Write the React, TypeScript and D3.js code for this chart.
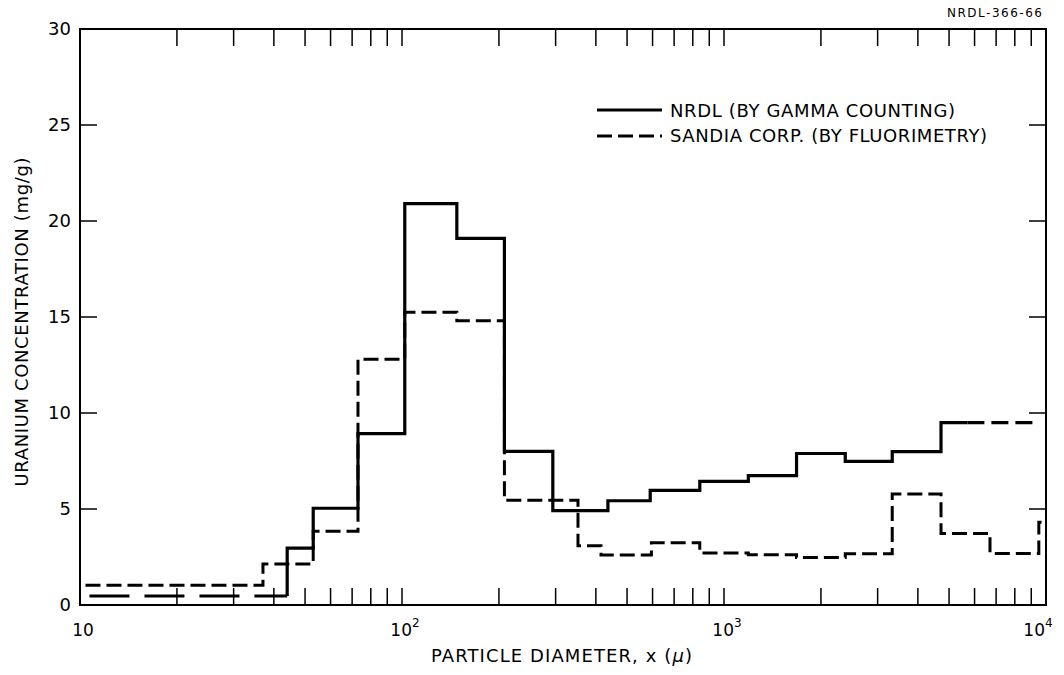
import React from "react";
import * as d3 from "d3";

const W = 1064;
const H = 675;

// axis domains and ticks
const xDomain: [number, number] = [10, 10000];
const yDomain: [number, number] = [0, 30];
const yTickValues = [0, 5, 10, 15, 20, 25, 30];
const xMajorTicks = [10, 100, 1000, 10000];
const xMajorExponents = ["", "2", "3", "4"];

// NRDL (by gamma counting) – bin edges (µ) and concentrations (mg/g)
const nrdlEdges = [10.7, 44, 53, 73, 102, 148, 208, 294, 436, 590, 841, 1190, 1680, 2380, 3330, 4720, 5700, 9510];
const nrdlValues = [0.47, 2.96, 5.04, 8.93, 20.9, 19.1, 8.0, 4.92, 5.43, 5.97, 6.44, 6.74, 7.89, 7.48, 7.99, 9.5, 9.5];
const nrdlEstimated = [true, false, false, false, false, false, false, false, false, false, false, false, false, false, false, false, true];

// Sandia Corp. (by fluorimetry)
const sandiaEdges = [10.4, 37, 53, 73, 102, 148, 208, 352, 415, 595, 841, 1190, 1680, 2380, 3330, 4720, 6700, 9500, 10000];
const sandiaValues = [1.03, 2.13, 3.84, 12.8, 15.25, 14.8, 5.45, 3.09, 2.61, 3.24, 2.71, 2.62, 2.47, 2.67, 5.78, 3.73, 2.68, 4.31];

const legendLabels = ["NRDL (BY GAMMA COUNTING)", "SANDIA CORP. (BY FLUORIMETRY)"];
const yTitle = "URANIUM CONCENTRATION (mg/g)";
const xTitle = "PARTICLE DIAMETER, x (";
const figureId = "NRDL-366-66";

const FONT = "DejaVu Sans";

type Run = { flag: boolean; start: number; pts: [number, number][] };

function stepRuns(edges: number[], values: number[], flags?: boolean[]): Run[] {
  const runs: Run[] = [];
  let cur: Run | null = null;
  for (let i = 0; i < values.length; i++) {
    const f = flags ? flags[i] : false;
    if (!cur || cur.flag !== f) {
      cur = { flag: f, start: i, pts: [] };
      if (i > 0) cur.pts.push([edges[i], values[i - 1]]);
      runs.push(cur);
    }
    cur.pts.push([edges[i], values[i]], [edges[i + 1], values[i]]);
  }
  return runs;
}

export default function App() {
  const left = 80, right = 1046, top = 29, bottom = 605;
  const x = d3.scaleLog().domain(xDomain).range([left, right]);
  const y = d3.scaleLinear().domain(yDomain).range([bottom, top]);
  const line = d3.line<[number, number]>().x(d => x(d[0])).y(d => y(d[1]));
  const tickLen = 17;

  const xTicks = x.ticks().filter(t => t > xDomain[0] && t < xDomain[1]);
  const yInner = yTickValues.filter(v => v > yDomain[0] && v < yDomain[1]);

  const nrdlRuns = stepRuns(nrdlEdges, nrdlValues, nrdlEstimated);
  const sandiaRuns = stepRuns(sandiaEdges, sandiaValues);

  return (
    <svg width={W} height={H} style={{ position: "absolute", left: 0, top: 0, background: "#fff" }} fontFamily={FONT}>
      <rect x={0} y={0} width={W} height={H} fill="#fff" />
      {/* frame */}
      <rect x={left} y={top} width={right - left} height={bottom - top} fill="none" stroke="#000" strokeWidth={2} />
      {/* x ticks top and bottom */}
      {xTicks.map((t, i) => (
        <g key={"xt" + i} stroke="#000" strokeWidth={1.5}>
          <line x1={x(t)} x2={x(t)} y1={top} y2={top + tickLen} />
          <line x1={x(t)} x2={x(t)} y1={bottom} y2={bottom - tickLen} />
        </g>
      ))}
      {/* y ticks left and right */}
      {yInner.map((v, i) => (
        <g key={"yt" + i} stroke="#000" strokeWidth={1.5}>
          <line x1={left} x2={left + tickLen} y1={y(v)} y2={y(v)} />
          <line x1={right} x2={right - tickLen} y1={y(v)} y2={y(v)} />
        </g>
      ))}
      {/* y tick labels */}
      {yTickValues.map((v, i) => (
        <text key={"yl" + i} x={71} y={y(v)} dy="0.36em" textAnchor="end" fontSize={18} fill="#000">
          {v}
        </text>
      ))}
      {/* x tick labels */}
      {xMajorTicks.map((t, i) => {
        const last = i === xMajorTicks.length - 1;
        const cx = last ? x(t) - 8 : x(t) + 3;
        return (
          <text key={"xl" + i} x={cx} y={636} textAnchor="middle" fontSize={17} fill="#000">
            10
            {xMajorExponents[i] ? (
              <tspan fontSize={12} dy={-9}>{xMajorExponents[i]}</tspan>
            ) : null}
          </text>
        );
      })}
      {/* axis titles */}
      <text x={431} y={662} fontSize={18} fill="#000" textLength={261} lengthAdjust="spacing">
        {xTitle}
        <tspan fontStyle="italic">μ</tspan>)
      </text>
      <text
        transform={`translate(28, 322) rotate(-90)`}
        textAnchor="middle"
        fontSize={18}
        fill="#000"
        textLength={329}
        lengthAdjust="spacing"
      >
        {yTitle}
      </text>
      <text x={1042} y={17} textAnchor="end" fontSize={12} fill="#000" textLength={95} lengthAdjust="spacing">
        {figureId}
      </text>
      {/* data: Sandia dashed */}
      {sandiaRuns.map((r, i) => (
        <path key={"s" + i} d={line(r.pts) || ""} fill="none" stroke="#000" strokeWidth={3} strokeDasharray="15,6" />
      ))}
      {/* data: NRDL solid (estimated parts long-dashed) */}
      {nrdlRuns.map((r, i) => (
        <path
          key={"n" + i}
          d={line(r.pts) || ""}
          fill="none"
          stroke="#000"
          strokeWidth={3.2}
          strokeDasharray={r.flag ? (r.start === 0 ? "40,15" : "17,7") : undefined}
        />
      ))}
      {/* legend */}
      <line x1={597} x2={662} y1={110} y2={110} stroke="#000" strokeWidth={3.2} />
      <line x1={597} x2={662} y1={136} y2={136} stroke="#000" strokeWidth={3} strokeDasharray="15,6" />
      <text x={670} y={117} fontSize={18} fill="#000" textLength={285} lengthAdjust="spacing">
        {legendLabels[0]}
      </text>
      <text x={670} y={142} fontSize={18} fill="#000" textLength={317} lengthAdjust="spacing">
        {legendLabels[1]}
      </text>
    </svg>
  );
}
